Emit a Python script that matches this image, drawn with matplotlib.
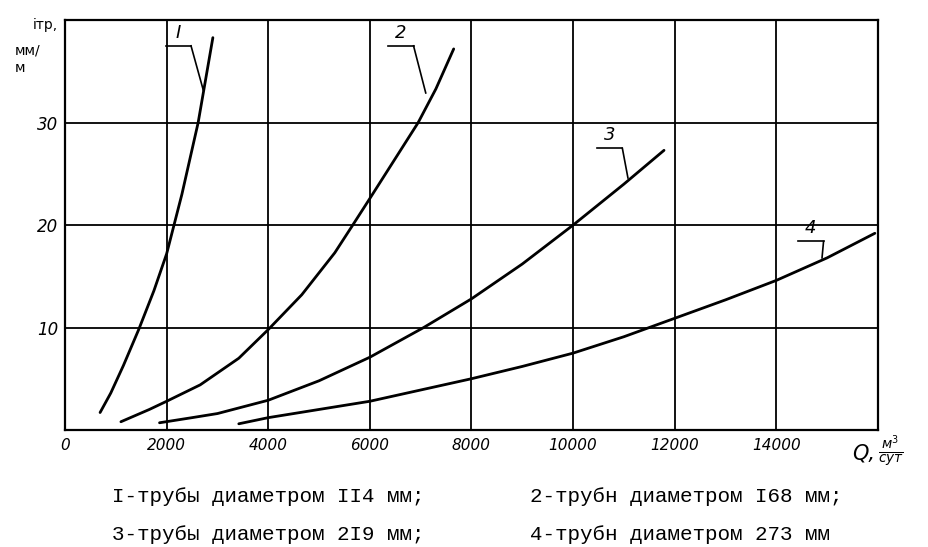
import matplotlib
matplotlib.use("Agg")
import matplotlib.pyplot as plt
import matplotlib.transforms as mtransforms

# --- data: flow Q (m3/day) vs friction loss i (mm/m) ---
q1 = [690, 900, 1150, 1450, 1750, 2000, 2300, 2620, 2910]
i1 = [1.7, 3.6, 6.3, 9.8, 13.6, 17.2, 23.0, 30.0, 38.3]

q2 = [1100, 1660, 2000, 2660, 3420, 4000, 4660, 5310, 5650, 6000, 6950, 7300, 7650]
i2 = [0.8, 2.0, 2.8, 4.4, 7.0, 9.8, 13.2, 17.3, 19.9, 22.6, 30.0, 33.3, 37.2]

q3 = [1860, 2500, 3000, 4000, 5000, 6000, 7060, 8000, 9000, 10000, 11000, 11790]
i3 = [0.7, 1.2, 1.6, 2.9, 4.8, 7.1, 10.0, 12.8, 16.2, 20.0, 24.0, 27.3]

q4 = [3420, 4000, 5000, 6000, 7000, 8000, 9000, 10000, 11000, 12000, 13000, 14000, 15000, 15940]
i4 = [0.6, 1.2, 2.0, 2.8, 3.9, 5.0, 6.2, 7.5, 9.1, 10.9, 12.7, 14.6, 16.8, 19.2]

curve_names = ["I", "2", "3", "4"]
x_ticks = [0, 2000, 4000, 6000, 8000, 10000, 12000, 14000]
x_labels = ["0", "2000", "4000", "6000", "8000", "10000", "12000", "14000"]
y_ticks = [10, 20, 30]
y_labels = ["10", "20", "30"]

legend_lines = [
    ("I-трубы диаметром II4 мм;", "2-трубн диаметром I68 мм;"),
    ("3-трубы диаметром 2I9 мм;", "4-трубн диаметром 273 мм"),
]

# label positions (text x, text y, leader end x, leader end y) in data units
label_pos = [
    (2230, 37.9, 2720, 33.2),
    (6610, 37.9, 7100, 32.9),
    (10720, 27.9, 11080, 24.6),
    (14680, 18.8, 14900, 16.8),
]

# --- figure ---
fig = plt.figure(figsize=(9.29, 5.47), dpi=100)
ax = fig.add_axes([0.070, 0.214, 0.875, 0.749])

for q, i in [(q1, i1), (q2, i2), (q3, i3), (q4, i4)]:
    ax.plot(q, i, color="black", lw=2.0, solid_capstyle="round",
            solid_joinstyle="round")

ax.set_xlim(0, 16000)
ax.set_ylim(0, 40)
ax.set_xticks(range(0, 16001, 2000))
ax.set_yticks(range(0, 41, 10))
ax.grid(True, color="black", lw=1.3)
for s in ax.spines.values():
    s.set_linewidth(1.6)
ax.tick_params(length=0)

ax.set_xticks(x_ticks)
ax.set_xticklabels(x_labels, fontstyle="italic", fontsize=11, family="DejaVu Sans")
off = mtransforms.ScaledTranslation(9 / 100, 0, fig.dpi_scale_trans)
for lab in ax.get_xticklabels():
    lab.set_transform(lab.get_transform() + off)
ax.tick_params(axis="x", pad=6)
ax.set_yticks(y_ticks)
ax.set_yticklabels(y_labels, fontstyle="italic", fontsize=12, family="DejaVu Sans")
ax.tick_params(axis="y", pad=5)

# curve labels with underline and leader
for name, (tx, ty, lx, ly) in zip(curve_names, label_pos):
    ax.text(tx, ty, name, ha="center", va="bottom", fontsize=13, fontstyle="italic")
    ax.plot([tx - 250, tx + 250], [ty - 0.4, ty - 0.4], color="black", lw=1.2)
    ax.plot([tx + 250, lx], [ty - 0.4, ly], color="black", lw=1.2)

# axis titles
fig.text(33 / 929, 1 - 25 / 547, "iтр,", fontsize=10, va="center", ha="left")
fig.text(15 / 929, 1 - 50 / 547, "мм/", fontsize=10, va="center", ha="left")
fig.text(15 / 929, 1 - 68 / 547, "м", fontsize=10, va="center", ha="left")
fig.text(852 / 929, 1 - 453 / 547, "Q,", fontsize=15, fontstyle="italic",
         va="center", ha="left")
fig.text(878 / 929, 1 - 451 / 547, r"$\frac{м^3}{сут}$", fontsize=14,
         va="center", ha="left")

# legend text below the chart
for row, (left, right) in enumerate(legend_lines):
    y = 1 - (496 + 39 * row) / 547
    fig.text(112 / 929, y, left, fontsize=15, family="Liberation Mono",
             va="center", ha="left")
    fig.text(530 / 929, y, right, fontsize=15, family="Liberation Mono",
             va="center", ha="left")

plt.savefig("out.png", dpi=100)
plt.close()
